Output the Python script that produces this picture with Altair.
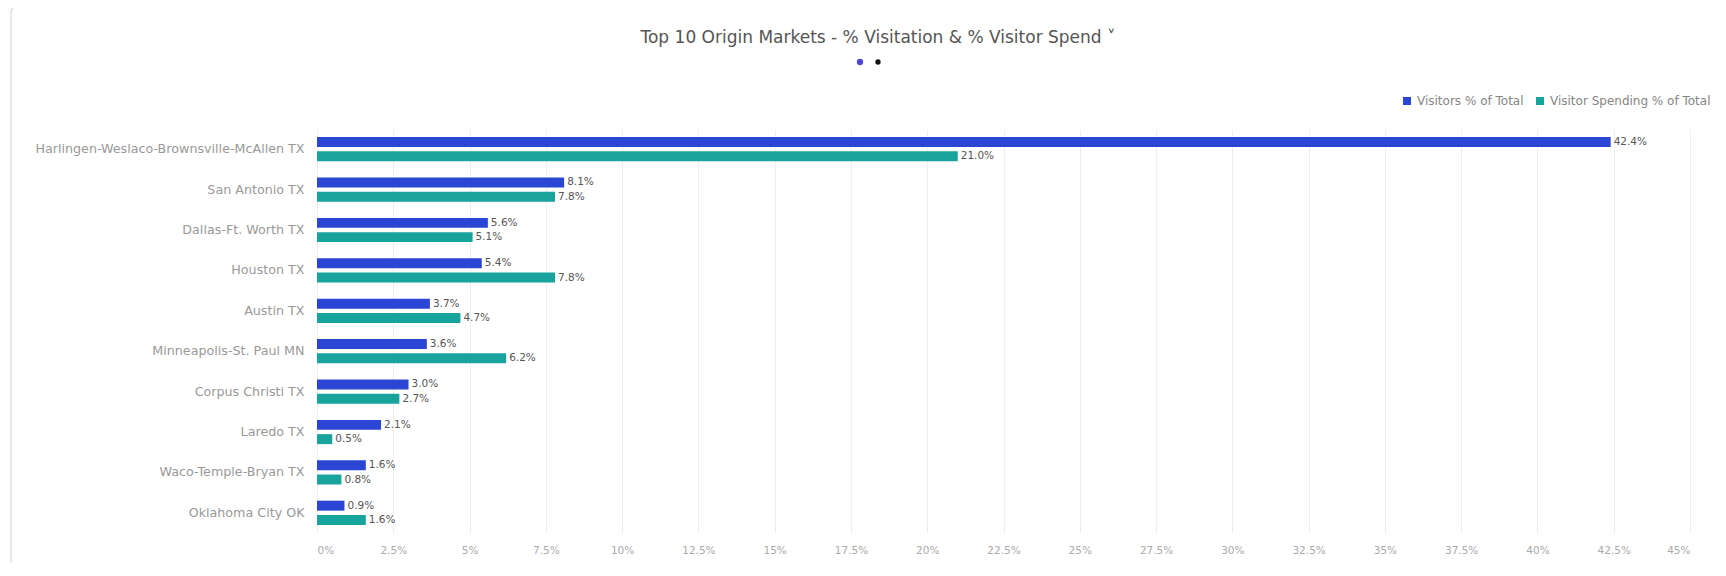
import altair as alt
import pandas as pd

markets = [
    "Harlingen-Weslaco-Brownsville-McAllen TX",
    "San Antonio TX",
    "Dallas-Ft. Worth TX",
    "Houston TX",
    "Austin TX",
    "Minneapolis-St. Paul MN",
    "Corpus Christi TX",
    "Laredo TX",
    "Waco-Temple-Bryan TX",
    "Oklahoma City OK",
]
visitors_pct = [42.4, 8.1, 5.6, 5.4, 3.7, 3.6, 3.0, 2.1, 1.6, 0.9]
spending_pct = [21.0, 7.8, 5.1, 7.8, 4.7, 6.2, 2.7, 0.5, 0.8, 1.6]
series_names = ["Visitors % of Total", "Visitor Spending % of Total"]
series_colors = ["#2b46d4", "#19a39d"]
x_ticks = [0, 2.5, 5, 7.5, 10, 12.5, 15, 17.5, 20, 22.5, 25, 27.5, 30, 32.5, 35, 37.5, 40, 42.5, 45]
title_text = "Top 10 Origin Markets - % Visitation & % Visitor Spend  \u02c5"

rows = []
for m, v, s in zip(markets, visitors_pct, spending_pct):
    rows.append({"market": m, "series": series_names[0], "value": v})
    rows.append({"market": m, "series": series_names[1], "value": s})
df = pd.DataFrame(rows)

W = 1373
H = 404
LEFT = 309
TOP = 121
FONT = "DejaVu Sans"

y_enc = alt.Y("market:N", sort=markets, title=None,
              scale=alt.Scale(paddingInner=0.4, paddingOuter=0.2),
              axis=alt.Axis(labelLimit=400, labelFontSize=12.7, labelColor="#999999",
                            labelPadding=13, ticks=False, domain=False, grid=False,
                            labelFont=FONT))
yoff_enc = alt.YOffset("series:N", sort=series_names,
                       scale=alt.Scale(paddingInner=0.3))
x_enc = alt.X("value:Q", title=None,
              scale=alt.Scale(domain=[0, 45], nice=False, zero=True),
              axis=alt.Axis(values=x_ticks, labelExpr="datum.value + '%'",
                            labelFontSize=10.5, labelColor="#aaaaaa", labelPadding=12,
                            ticks=False, domain=False, grid=True, gridColor="#eeeeee",
                            labelFont=FONT))

base = alt.Chart(df).encode(y=y_enc, yOffset=yoff_enc)

bars = base.mark_bar().encode(
    x=x_enc,
    color=alt.Color("series:N", sort=series_names,
                    scale=alt.Scale(domain=series_names, range=series_colors),
                    legend=alt.Legend(title=None, orient="none", direction="horizontal",
                                      legendX=1084, legendY=-34, symbolType="square",
                                      symbolSize=64, labelFontSize=12, labelLimit=400,
                                      labelColor="#858585", columnPadding=10,
                                      labelFont=FONT, symbolStrokeWidth=0)),
)

labels = base.mark_text(align="left", baseline="middle", dx=3, fontSize=10.5,
                        color="#555555", font=FONT).encode(
    x=alt.X("value:Q"),
    text=alt.Text("label:N"),
).transform_calculate(label="format(datum.value, '.1f') + '%'")

one = pd.DataFrame({"k": [0]})

title_mark = alt.Chart(one).mark_text(
    fontSize=17, color="#555555", font=FONT, align="center", baseline="middle"
).encode(x=alt.value(878 - 317), y=alt.value(38 - 129), text=alt.value(title_text))

dot1 = alt.Chart(one).mark_circle(size=40, opacity=1, color="#5046d8").encode(
    x=alt.value(860 - 317), y=alt.value(62 - 129))
dot2 = alt.Chart(one).mark_circle(size=28, opacity=1, color="#111111").encode(
    x=alt.value(878 - 317), y=alt.value(62 - 129))

card = alt.Chart(one).mark_rect(fill="transparent", stroke="#e2e2e2", strokeWidth=1.5,
                                cornerRadius=5).encode(
    x=alt.value(11 - 317), x2=alt.value(W + 200),
    y=alt.value(7 - 129), y2=alt.value(H + 200))

chart = alt.layer(card, bars, labels, title_mark, dot1, dot2).properties(
    width=W, height=H,
    padding={"left": LEFT, "top": TOP, "right": 26, "bottom": 30},
    autosize=alt.AutoSizeParams(type="none"),
    background="white",
).configure_view(stroke=None)

chart.save("out.html", embed_options={"renderer": "svg", "actions": False})
